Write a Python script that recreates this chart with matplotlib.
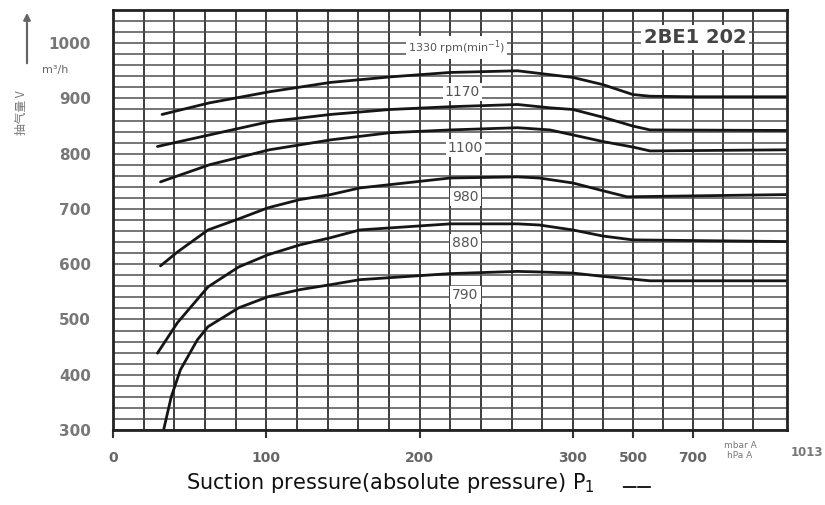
import numpy as np
import matplotlib
matplotlib.use("Agg")
import matplotlib.pyplot as plt

# ---- data (suction pressure mbar A, capacity m3/h) ----
speeds = ["1330", "1170", "1100", "980", "880", "790"]

x_1330 = [32, 63, 102, 142, 181, 220, 264, 285, 300, 400, 500, 557, 700, 1013]
y_1330 = [871, 892, 912, 929, 939, 947, 950, 943, 938, 925, 907, 904, 903, 903]

x_1170 = [29, 63, 102, 142, 181, 220, 264, 285, 300, 400, 500, 557, 1013]
y_1170 = [813, 834, 858, 871, 880, 885, 889, 883, 880, 866, 850, 843, 842]

x_1100 = [31, 63, 102, 142, 181, 220, 264, 285, 300, 400, 500, 557, 1013]
y_1100 = [749, 780, 807, 825, 838, 843, 847, 843, 834, 822, 812, 805, 807]

x_980 = [31, 42, 62, 82, 101, 122, 142, 161, 220, 264, 278, 300, 400, 480, 1013]
y_980 = [597, 622, 662, 682, 702, 717, 726, 738, 756, 758, 756, 747, 733, 722, 726]

x_880 = [29, 42, 62, 82, 101, 122, 142, 161, 220, 264, 278, 300, 400, 500, 1013]
y_880 = [439, 494, 559, 595, 617, 635, 648, 662, 673, 673, 671, 662, 651, 644, 641]

x_790 = [33, 38, 44, 55, 62, 82, 101, 122, 142, 161, 220, 264, 278, 300, 400, 557, 1013]
y_790 = [300, 360, 409, 463, 487, 521, 541, 554, 563, 572, 583, 587, 586, 584, 578, 570, 570]

curves_x = [x_1330, x_1170, x_1100, x_980, x_880, x_790]
curves_y = [y_1330, y_1170, y_1100, y_980, y_880, y_790]

label_text = ["1330 rpm(min$^{-1}$)", "1170", "1100", "980", "880", "790"]
label_x = [224, 228, 230, 230, 230, 230]
label_y = [992, 912, 811, 722, 639, 545]

xticks = [0, 100, 200, 300, 500, 700]
yticks = [300, 400, 500, 600, 700, 800, 900, 1000]

# ---- piecewise x scale ----
K = 0.196
def fwd(x):
    x = np.asarray(x, dtype=float)
    return np.where(x <= 300, x, 300 + (x - 300) * K)
def inv(u):
    u = np.asarray(u, dtype=float)
    return np.where(u <= 300, u, 300 + (u - 300) / K)

fig = plt.figure(figsize=(8.25, 5.05), dpi=100)
ax = fig.add_axes([113/825, 1 - 430/505, (787-113)/825, (430-10)/505])
ax.set_xscale('function', functions=(fwd, inv))
ax.set_xlim(0, 1013)
ax.set_ylim(300, 1060)

# grid
minor_x = list(range(0, 301, 20)) + list(range(400, 901, 100))
ax.set_xticks(minor_x, minor=True)
ax.set_yticks(list(range(300, 1061, 20)), minor=True)
ax.set_xticks(xticks)
ax.set_xticklabels([str(t) for t in xticks])
ax.set_yticks(yticks)
ax.set_yticklabels([str(t) for t in yticks])
ax.grid(True, which='both', axis='x', color='#3c3c3c', lw=1.4)
ax.grid(True, which='both', axis='y', color='#505050', lw=1.1)
ax.set_axisbelow(True)

for s in ax.spines.values():
    s.set_color('#222222')
    s.set_linewidth(2)

ax.tick_params(axis='x', which='major', length=6, width=1.5, color='#333',
               pad=9, labelsize=10, labelcolor='#666')
ax.tick_params(axis='y', which='major', length=0, pad=16, labelsize=11,
               labelcolor='#777')
ax.tick_params(which='minor', length=0)
for lab in ax.get_yticklabels() + ax.get_xticklabels():
    lab.set_fontweight('bold')

for xs, ys in zip(curves_x, curves_y):
    ax.plot(xs, ys, color='#161616', lw=2.0, solid_capstyle='round')

for t, lx, ly in zip(label_text, label_x, label_y):
    fs = 8 if 'rpm' in t else 10
    ax.text(lx, ly, t, ha='center', va='center', fontsize=fs, color='#555',
            bbox=dict(facecolor='white', edgecolor='none', pad=1.5))

ax.text(707, 1010, "2BE1 202", ha='center', va='center', fontsize=14,
        fontweight='bold', color='#444',
        bbox=dict(facecolor='white', edgecolor='none', pad=2))

# axis annotations
fig.text(390/825, 1 - 483/505, "Suction pressure(absolute pressure) P$_{1}$",
         ha='center', va='center', fontsize=15, color='#111')
fig.text(637/825, 1 - 487/505, "——", ha='center', va='center', fontsize=11,
         color='#222', fontweight='bold')
fig.text(740/825, 1 - 446/505, "mbar A", ha='center', va='center', fontsize=6.5, color='#777')
fig.text(740/825, 1 - 456/505, "hPa A", ha='center', va='center', fontsize=6.5, color='#777')
fig.text(791/825, 1 - 453/505, "1013", ha='left', va='center', fontsize=8.5,
         color='#777', fontweight='bold')

fig.text(42/825, 1 - 70/505, "m³/h", ha='left', va='center', fontsize=8, color='#666')
fig.text(22/825, 1 - 113/505, "抽气量 V", rotation=90, ha='center', va='center',
         fontsize=8.5, color='#777', family=['Noto Sans CJK SC', 'DejaVu Sans'])
ax.annotate('', xy=(27/825, 1 - 10/505), xytext=(27/825, 1 - 66/505),
            xycoords='figure fraction', textcoords='figure fraction',
            arrowprops=dict(arrowstyle='-|>', color='#666', lw=1.6))

fig.savefig("out.png", dpi=100)
